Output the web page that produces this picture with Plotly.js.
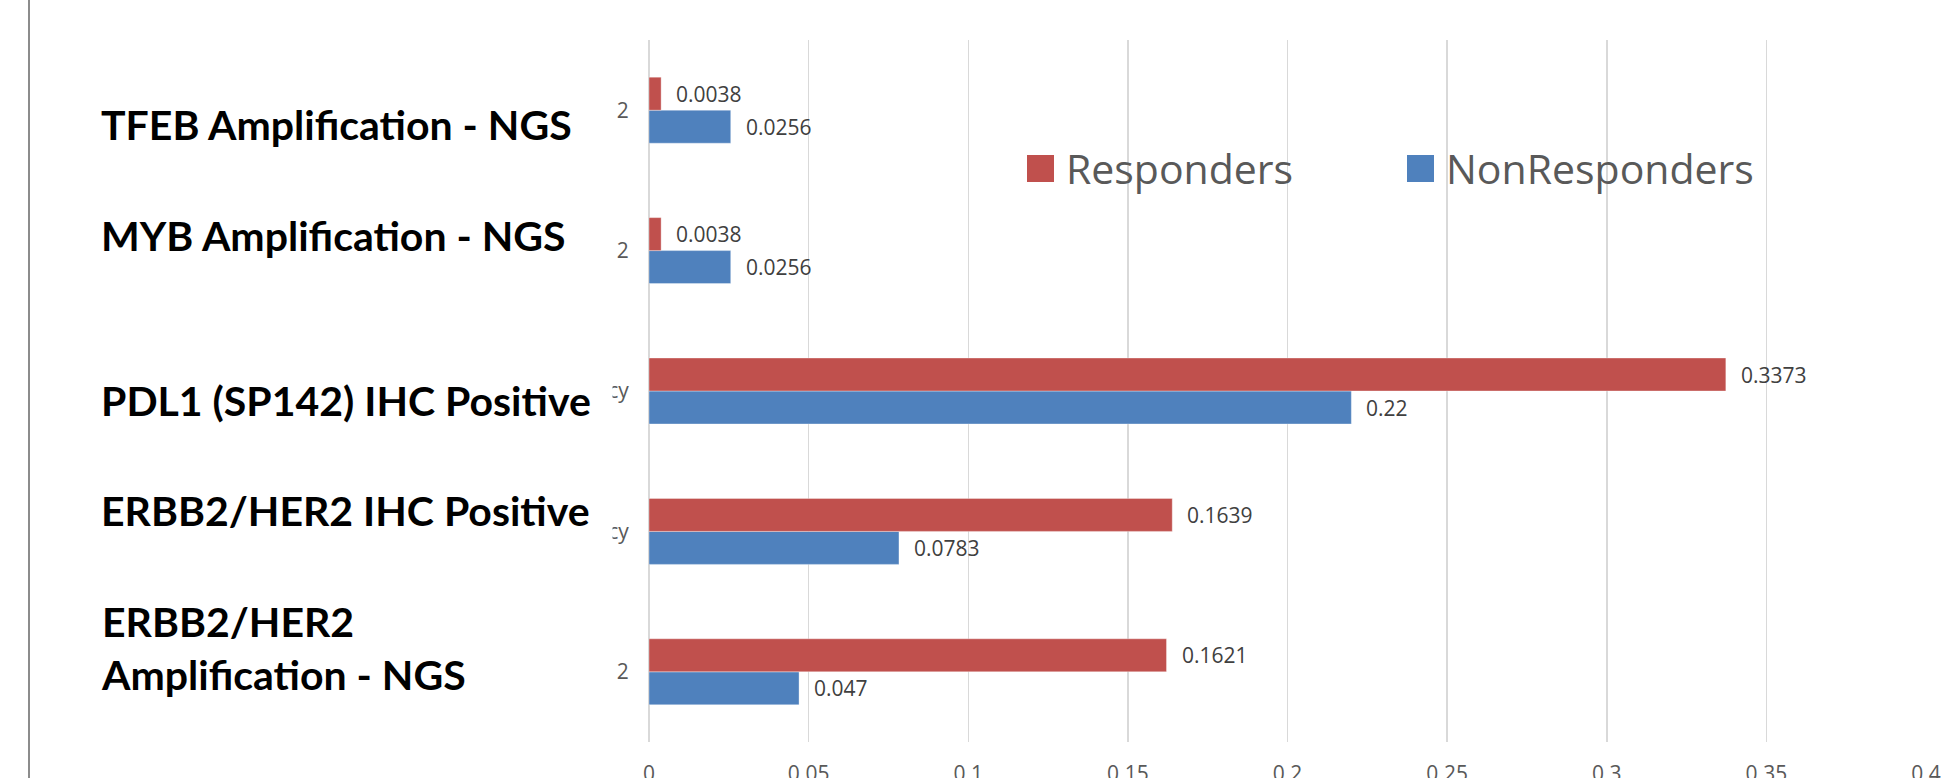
<!DOCTYPE html>
<html>
<head>
<meta charset="utf-8">
<script src="https://cdn.plot.ly/plotly-3.0.1.min.js"></script>
<style>html,body{margin:0;padding:0;background:#fff;}#chart{width:1960px;height:778px;}</style>
</head>
<body>
<div id="chart"></div>
<script>
// ---- data ----
const CATEGORIES = [
  "ERBB2/HER2<br>Amplification - NGS",
  "ERBB2/HER2 IHC Positive",
  "PDL1 (SP142) IHC Positive",
  "MYB Amplification - NGS",
  "TFEB Amplification - NGS"
];
const PARTIAL_TICKS = ["2", "cy", "cy", "2", "2"];
const SERIES_NAMES = ["Responders", "NonResponders"];
const RESPONDERS = [0.1621, 0.1639, 0.3373, 0.0038, 0.0038];
const NON_RESPONDERS = [0.047, 0.0783, 0.22, 0.0256, 0.0256];
const X_TICK_VALUES = [0, 0.05, 0.1, 0.15, 0.2, 0.25, 0.3, 0.35, 0.4];
const X_TICK_LABELS = ["0", "0.05", "0.1", "0.15", "0.2", "0.25", "0.3", "0.35", "0.4"];

// ---- styles ----
const COLORS = ["#C0504D", "#4F81BD"];
const LABEL_YSHIFT = [23.5, 21, -9, 15, -14];   // bold category label offsets (px)
const W = 1960, H = 778, ML = 649, MR = 34, MT = 40, MB = 36;
const PW = W - ML - MR, PH = H - MT - MB;
const px2x = p => (p - ML) / PW;
const px2y = p => (H - MB - p) / PH;

const traces = [
  {type: "bar", orientation: "h", name: SERIES_NAMES[1], y: CATEGORIES, x: NON_RESPONDERS,
   marker: {color: COLORS[1], line: {color: "rgba(255,255,255,0.35)", width: 1}}, hoverinfo: "none"},
  {type: "bar", orientation: "h", name: SERIES_NAMES[0], y: CATEGORIES, x: RESPONDERS,
   marker: {color: COLORS[0], line: {color: "rgba(255,255,255,0.35)", width: 1}}, hoverinfo: "none"}
];

const annotations = [];
const valueFont = {family: "Open Sans, sans-serif", size: 21, color: "#404040"};
CATEGORIES.forEach((c, i) => {
  annotations.push({xref: "x", yref: "y", x: RESPONDERS[i], y: c, text: String(RESPONDERS[i]),
    showarrow: false, xanchor: "left", yanchor: "middle", xshift: 13, yshift: 16.5, font: valueFont});
  annotations.push({xref: "x", yref: "y", x: NON_RESPONDERS[i], y: c, text: String(NON_RESPONDERS[i]),
    showarrow: false, xanchor: "left", yanchor: "middle", xshift: 13, yshift: -16.5, font: valueFont});
  annotations.push({xref: "paper", yref: "y", x: px2x(99), y: c, text: "<b>" + c + "</b>",
    showarrow: false, xanchor: "left", yanchor: "middle", align: "left", yshift: LABEL_YSHIFT[i],
    font: {family: "Lato, sans-serif", size: 41, color: "#000000"}});
});
// legend (manual, larger symbols)
const legendX = [1064, 1444];
SERIES_NAMES.forEach((n, i) => {
  annotations.push({xref: "paper", yref: "paper", x: px2x(legendX[i]), y: px2y(168), text: n,
    showarrow: false, xanchor: "left", yanchor: "middle",
    font: {family: "Open Sans, sans-serif", size: 41, color: "#595959"}});
});

const shapes = [
  {type: "rect", xref: "paper", yref: "paper", x0: px2x(33), x1: px2x(612.5), y0: px2y(790), y1: px2y(-10),
   fillcolor: "#ffffff", line: {width: 0}, layer: "above"},
  {type: "line", xref: "paper", yref: "paper", x0: px2x(29), x1: px2x(29), y0: px2y(790), y1: px2y(-10),
   line: {color: "#8C8C8C", width: 2}, layer: "above"},
  {type: "rect", xref: "paper", yref: "paper", x0: px2x(1027), x1: px2x(1054), y0: px2y(182), y1: px2y(155),
   fillcolor: COLORS[0], line: {width: 0}, layer: "above"},
  {type: "rect", xref: "paper", yref: "paper", x0: px2x(1407), x1: px2x(1434), y0: px2y(182), y1: px2y(155),
   fillcolor: COLORS[1], line: {width: 0}, layer: "above"}
];

const layout = {
  width: W, height: H,
  margin: {l: ML, r: MR, t: MT, b: MB, pad: 0},
  paper_bgcolor: "#ffffff", plot_bgcolor: "#ffffff",
  barmode: "group", bargap: 0.53, bargroupgap: 0,
  showlegend: false,
  xaxis: {range: [0, 0.4], tickvals: X_TICK_VALUES, ticktext: X_TICK_LABELS,
    showgrid: true, gridcolor: "#D9D9D9", gridwidth: 1.5,
    zeroline: true, zerolinecolor: "#D9D9D9", zerolinewidth: 1.5, showline: false,
    ticks: "outside", ticklen: 13, tickcolor: "rgba(0,0,0,0)",
    tickfont: {family: "Open Sans, sans-serif", size: 21, color: "#595959"}, fixedrange: true},
  yaxis: {type: "category", categoryorder: "array", categoryarray: CATEGORIES,
    tickvals: CATEGORIES, ticktext: PARTIAL_TICKS,
    showgrid: false, zeroline: false, showline: false,
    ticks: "outside", ticklen: 15, tickcolor: "rgba(0,0,0,0)",
    tickfont: {family: "Open Sans, sans-serif", size: 21, color: "#595959"}, fixedrange: true},
  annotations: annotations,
  shapes: shapes
};

Plotly.newPlot("chart", traces, layout, {staticPlot: true, displayModeBar: false});
</script>
</body>
</html>
